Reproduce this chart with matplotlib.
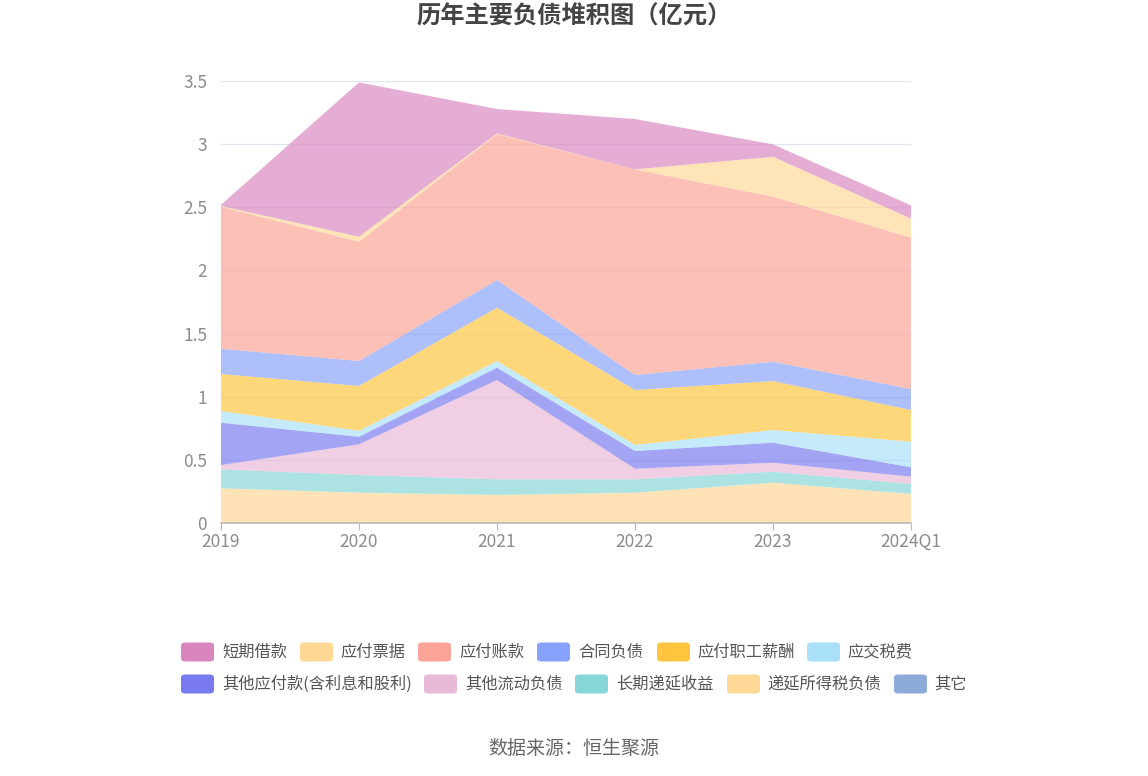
import matplotlib.pyplot as plt
from matplotlib.patches import FancyBboxPatch
import numpy as np

plt.rcParams['font.family'] = ['Noto Sans CJK SC', 'DejaVu Sans']

years = ['2019', '2020', '2021', '2022', '2023', '2024Q1']

# 各项负债（亿元），从下往上堆叠
deferred_tax = [0.275, 0.24, 0.222, 0.24, 0.319, 0.23]      # 递延所得税负债
deferred_income = [0.15, 0.14, 0.124, 0.106, 0.087, 0.079]  # 长期递延收益
other_current = [0.034, 0.243, 0.786, 0.084, 0.071, 0.058]  # 其他流动负债
other_payable = [0.335, 0.06, 0.098, 0.14, 0.159, 0.074]    # 其他应付款(含利息和股利)
tax_payable = [0.093, 0.048, 0.053, 0.048, 0.10, 0.203]     # 应交税费
salary_payable = [0.293, 0.354, 0.422, 0.435, 0.388, 0.251] # 应付职工薪酬
contract_liab = [0.20, 0.198, 0.219, 0.119, 0.153, 0.166]   # 合同负债
accounts_payable = [1.124, 0.944, 1.156, 1.628, 1.307, 1.198]  # 应付账款
notes_payable = [0.006, 0.04, 0.005, 0.0, 0.316, 0.151]     # 应付票据
short_loans = [0.01, 1.222, 0.193, 0.399, 0.098, 0.105]     # 短期借款
others = [0, 0, 0, 0, 0, 0]                                 # 其它

legend_names = ['短期借款', '应付票据', '应付账款', '合同负债', '应付职工薪酬', '应交税费',
                '其他应付款(含利息和股利)', '其他流动负债', '长期递延收益', '递延所得税负债', '其它']
legend_colors = ['#DA86BE', '#FFD896', '#FBA396', '#86A2FA', '#FFC53D', '#A8E0FA',
                 '#7979F0', '#E9B9D8', '#86D5D7', '#FFD796', '#8EAAD8']

stack_series = [others, deferred_tax, deferred_income, other_current, other_payable,
                tax_payable, salary_payable, contract_liab, accounts_payable,
                notes_payable, short_loans]
stack_colors = legend_colors[::-1]

fig = plt.figure(figsize=(11.48, 7.76), dpi=100)
ax = fig.add_axes([221 / 1148, 1 - 523 / 776, 690 / 1148, 442 / 776])

x = np.arange(len(years))
ax.stackplot(x, *stack_series, colors=stack_colors, alpha=0.68, linewidth=0, zorder=2)

ax.set_xlim(0, len(years) - 1)
ax.set_ylim(0, 3.5)
ax.set_yticks(np.arange(0, 3.6, 0.5))
ax.set_yticklabels(['0', '0.5', '1', '1.5', '2', '2.5', '3', '3.5'])
ax.set_xticks(x)
ax.set_xticklabels(years)
ax.grid(axis='y', color='#E0E6F1', linewidth=1, zorder=0)
ax.set_axisbelow(True)
for s in ['top', 'right', 'left']:
    ax.spines[s].set_visible(False)
ax.spines['bottom'].set_color('#B8B8B8')
ax.spines['bottom'].set_linewidth(1.2)
ax.tick_params(axis='y', length=0, labelsize=12.5, labelcolor='#8C8C8C', pad=10)
ax.tick_params(axis='x', length=5, color='#B8B8B8', labelsize=12.5, labelcolor='#8C8C8C', pad=2)

fig.text(0.5, 1 - 17 / 776, '历年主要负债堆积图（亿元）', ha='center', va='center',
         fontsize=17.5, fontweight='bold', color='#444444')

# 图例（两行，手动排布）
rows = [
    (652, [(181, 222), (300, 340), (418, 459), (537, 578), (657, 697), (807, 847)]),
    (684, [(181, 222), (424, 465), (575, 616), (727, 767), (894, 934)]),
]
k = 0
for yc, items in rows:
    for px, tx in items:
        fy = 1 - yc / 776
        patch = FancyBboxPatch((px / 1148, fy - 9.5 / 776), 33 / 1148, 19 / 776,
                               boxstyle='round,pad=0,rounding_size=0.004',
                               transform=fig.transFigure, facecolor=legend_colors[k],
                               edgecolor='none')
        fig.patches.append(patch)
        fig.text(tx / 1148, fy, legend_names[k], ha='left', va='center',
                 fontsize=11.7, color='#555555')
        k += 1

fig.text(0.5, 1 - 748 / 776, '数据来源：恒生聚源', ha='center', va='center',
         fontsize=13.7, color='#666666')

fig.savefig('out.png', dpi=100)
